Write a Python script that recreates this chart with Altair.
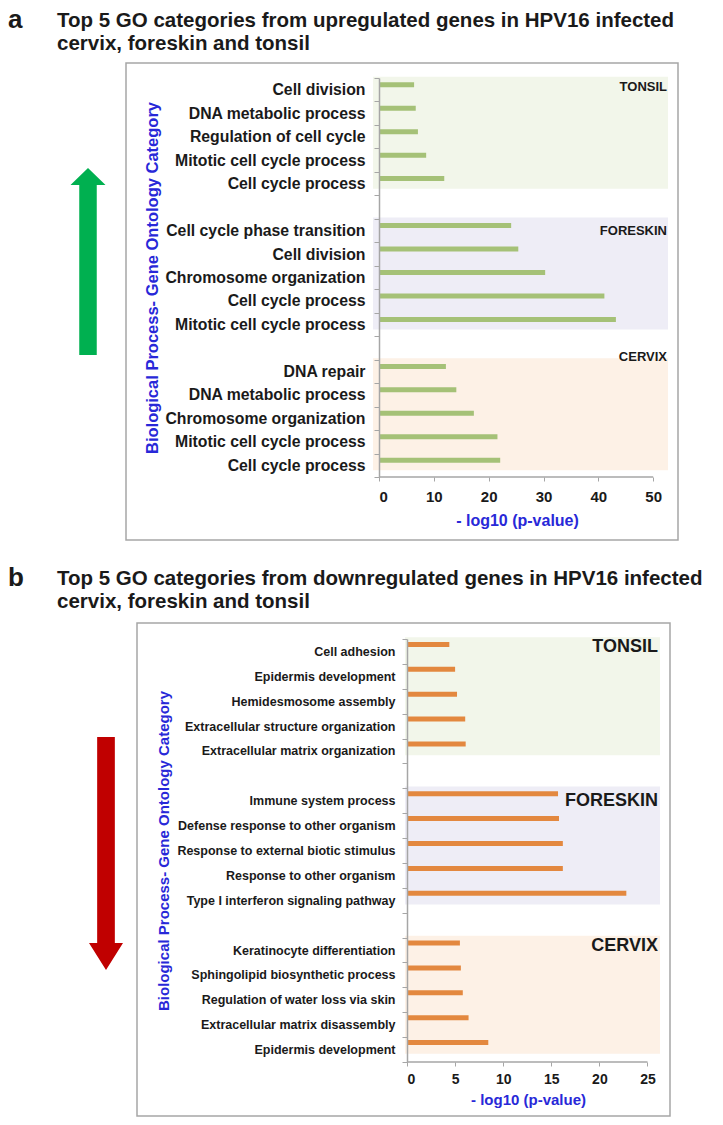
import altair as alt
import pandas as pd

# ---------------- data ----------------
TISSUES = ["TONSIL", "FORESKIN", "CERVIX"]

tonsil_up_terms = ["Cell division", "DNA metabolic process", "Regulation of cell cycle",
                   "Mitotic cell cycle process", "Cell cycle process"]
tonsil_up_vals = [6.4, 6.7, 7.1, 8.6, 11.9]
foreskin_up_terms = ["Cell cycle phase transition", "Cell division", "Chromosome organization",
                     "Cell cycle process", "Mitotic cell cycle process"]
foreskin_up_vals = [24.1, 25.4, 30.3, 41.1, 43.2]
cervix_up_terms = ["DNA repair", "DNA metabolic process", "Chromosome organization",
                   "Mitotic cell cycle process", "Cell cycle process"]
cervix_up_vals = [12.2, 14.1, 17.3, 21.6, 22.1]

tonsil_down_terms = ["Cell adhesion", "Epidermis development", "Hemidesmosome assembly",
                     "Extracellular structure organization", "Extracellular matrix organization"]
tonsil_down_vals = [4.4, 5.0, 5.2, 6.05, 6.1]
foreskin_down_terms = ["Immune system process", "Defense response to other organism",
                       "Response to external biotic stimulus", "Response to other organism",
                       "Type I interferon signaling pathway"]
foreskin_down_vals = [15.7, 15.8, 16.2, 16.2, 22.8]
cervix_down_terms = ["Keratinocyte differentiation", "Sphingolipid biosynthetic process",
                     "Regulation of water loss via skin", "Extracellular matrix disassembly",
                     "Epidermis development"]
cervix_down_vals = [5.5, 5.6, 5.8, 6.4, 8.45]

up_ticks = [0, 10, 20, 30, 40, 50]
down_ticks = [0, 5, 10, 15, 20, 25]

title_a = ["Top 5 GO categories from upregulated genes in HPV16 infected", "cervix, foreskin and tonsil"]
title_b = ["Top 5 GO categories from downregulated genes in HPV16 infected", "cervix, foreskin and tonsil"]
y_title = "Biological Process- Gene Ontology Category"
x_title = "- log10 (p-value)"

# ---------------- style ----------------
W, H = 707, 1112
GRAY = "#a6a6a6"
BLUE = "#2828d8"
DARK = "#1a1a1a"
FONT = "Liberation Sans"
BG_COLORS = ["#f2f6ea", "#eeedf6", "#fdf1e6"]


def single():
    return alt.Chart(pd.DataFrame({"d": [0]}))


def text_mark(txt, x, y, size, font, color=DARK, weight="bold", align="left"):
    return single().mark_text(text=txt, align=align, baseline="alphabetic", font=font,
                              fontSize=size, fontWeight=weight, color=color).encode(
        x=alt.value(x), y=alt.value(y))


def panel(terms, vals, cfg):
    keys, labels, rows, first_keys, mid_keys = [], [], [], [], []
    slot = 0
    for g, (tl, vl) in enumerate(zip(terms, vals)):
        if g > 0:
            keys.append(f"k{slot:02d}")
            labels.append("")
            slot += 1
        for j, (t, v) in enumerate(zip(tl, vl)):
            k = f"k{slot:02d}"
            keys.append(k)
            labels.append(t)
            rows.append({"key": k, "term": t, "value": v, "tissue": TISSUES[g]})
            if j == 0:
                first_keys.append(k)
            if j == 2:
                mid_keys.append(k)
            slot += 1
    df = pd.DataFrame(rows)
    labels_js = "[" + ",".join("'" + s + "'" for s in labels) + "]"
    keys_js = "[" + ",".join("'" + s + "'" for s in keys) + "]"
    label_expr = f"{labels_js}[indexof({keys_js}, datum.value)]"

    y0, y1 = cfg["y_px"]
    x0, x1 = cfg["x_px"]
    yscale = alt.Scale(domain=keys, range=[y0, y1], paddingInner=0, paddingOuter=0)
    xscale = alt.Scale(domain=[0, cfg["x_max"]], range=[x0, x1], nice=False, zero=False)

    yaxis = alt.Axis(orient="left", offset=-x0, title=y_title, titleColor=BLUE, titleFont=FONT,
                     titleFontSize=cfg["ytitle_size"], titleFontWeight="bold", titleAngle=270,
                     titleBaseline="middle", titleAlign="center",
                     titleX=cfg["ytitle_x"] - x0, titleY=(y0 + y1) / 2,
                     labelExpr=label_expr, labelFont=FONT, labelFontSize=cfg["label_size"],
                     labelFontWeight="bold", labelColor=DARK, labelPadding=cfg["label_pad"],
                     labelLimit=400, tickBand="extent", tickSize=5, tickColor=GRAY,
                     domainColor=GRAY, domainWidth=1.5, grid=False, zindex=1)
    xaxis = alt.Axis(orient="bottom", offset=y1 - H, values=cfg["ticks"], title=x_title,
                     titleColor=BLUE, titleFont=FONT, titleFontSize=cfg["xtitle_size"],
                     titleFontWeight="bold", titleX=cfg["xtitle_pos"][0],
                     titleY=cfg["xtitle_pos"][1] - y1, titleBaseline="middle", titleAlign="center",
                     labelFont=FONT, labelFontSize=cfg["tick_size"], labelFontWeight="bold",
                     labelColor=DARK, labelPadding=cfg["tick_pad"], tickSize=4, tickColor=GRAY,
                     domain=False, grid=False, zindex=1)

    bars = alt.Chart(df).mark_bar(size=5, yOffset=cfg["bar_off"], color=cfg["bar_color"]).encode(
        y=alt.Y("key:N", scale=yscale, axis=yaxis),
        x=alt.X("value:Q", scale=xscale, axis=xaxis),
        tooltip=["tissue", "term", "value"])

    bg = alt.Chart(pd.DataFrame({"key": mid_keys, "tissue": TISSUES})).mark_bar(
        size=cfg["bg_size"], yOffset=cfg["bg_off"]).encode(
        y=alt.Y("key:N", scale=yscale, axis=yaxis),
        x=alt.value(cfg["bg_x"][0]), x2=alt.value(cfg["bg_x"][1]),
        color=alt.Color("tissue:N", scale=alt.Scale(domain=TISSUES, range=BG_COLORS), legend=None))

    rule = single().mark_rule(color=GRAY, strokeWidth=1.5).encode(
        x=alt.datum(0, axis=xaxis, scale=xscale), x2=alt.datum(cfg["ticks"][-1]), y=alt.value(y1))

    tissue_layers = []
    for tname, k, dy in zip(TISSUES, first_keys, cfg["tissue_dy"]):
        tissue_layers.append(
            alt.Chart(pd.DataFrame({"key": [k], "tissue": [tname]})).mark_text(
                align="right", baseline="middle", font=FONT, fontSize=cfg["tissue_size"],
                fontWeight="bold", color=DARK, dy=dy).encode(
                y=alt.Y("key:N", scale=yscale, axis=yaxis), x=alt.value(cfg["tissue_x"]),
                text="tissue:N"))

    return alt.layer(bg, bars, rule, *tissue_layers)


cfg_a = dict(y_px=(70, 469), x_px=(371, 660), x_max=52.7, ticks=up_ticks, bar_color="#a5c177",
             bg_size=112, bg_off=-4, bar_off=-5, bg_x=(365, 660), label_size=15.8, label_pad=9,
             ytitle_size=16.5, ytitle_x=144, xtitle_size=16, xtitle_pos=(509, 512), tick_size=15,
             tick_pad=8, tissue_size=13, tissue_x=659, tissue_dy=[-3, 0, -14])
cfg_b = dict(y_px=(631, 1054), x_px=(399, 652), x_max=26.3, ticks=down_ticks, bar_color="#e3883f",
             bg_size=118, bg_off=-5, bar_off=-7, bg_x=(397, 652), label_size=12.5, label_pad=7,
             ytitle_size=15, ytitle_x=155, xtitle_size=15, xtitle_pos=(520, 1091), tick_size=14,
             tick_pad=6, tissue_size=18, tissue_x=650, tissue_dy=[-4, 0, -4])

panel_a = panel([tonsil_up_terms, foreskin_up_terms, cervix_up_terms],
                [tonsil_up_vals, foreskin_up_vals, cervix_up_vals], cfg_a)
panel_b = panel([tonsil_down_terms, foreskin_down_terms, cervix_down_terms],
                [tonsil_down_vals, foreskin_down_vals, cervix_down_vals], cfg_b)

# ---------------- decorations ----------------
box_a = single().mark_rect(fillOpacity=0, stroke=GRAY, strokeWidth=1.5).encode(
    x=alt.value(118), x2=alt.value(670), y=alt.value(55), y2=alt.value(532))
box_b = single().mark_rect(fillOpacity=0, stroke=GRAY, strokeWidth=1.5).encode(
    x=alt.value(129), x2=alt.value(662), y=alt.value(615), y2=alt.value(1108))

up_arrow = "M0,-5.343L1,-4.371L0.5,-4.371L0.5,5.343L-0.5,5.343L-0.5,-4.371L-1,-4.371Z"
down_arrow = "M0,6.853L1,5.265L0.52,5.265L0.52,-6.853L-0.52,-6.853L-0.52,5.265L-1,5.265Z"
arrow_a = single().mark_point(shape=up_arrow, filled=True, color="#00b050", opacity=1,
                              size=35 * 35, strokeWidth=0).encode(x=alt.value(80), y=alt.value(253.5))
arrow_b = single().mark_point(shape=down_arrow, filled=True, color="#c00000", opacity=1,
                              size=34 * 34, strokeWidth=0).encode(x=alt.value(98), y=alt.value(845.5))

titles = [
    text_mark("a", 0, 20, 26, FONT),
    text_mark(title_a[0], 49, 19, 20.5, FONT),
    text_mark(title_a[1], 49, 42, 20.5, FONT),
    text_mark("b", 0, 578, 26, FONT),
    text_mark(title_b[0], 49, 577, 20.5, FONT),
    text_mark(title_b[1], 49, 600, 20.5, FONT),
]

chart = alt.layer(box_a, box_b, arrow_a, arrow_b, *titles, panel_a, panel_b).resolve_scale(
    x="independent", y="independent", color="independent").resolve_axis(
    x="independent", y="independent").properties(
    width=W, height=H, autosize="none", padding=0).configure_view(stroke=None)

chart.save("out.html", embed_options={"renderer": "svg", "actions": False})
